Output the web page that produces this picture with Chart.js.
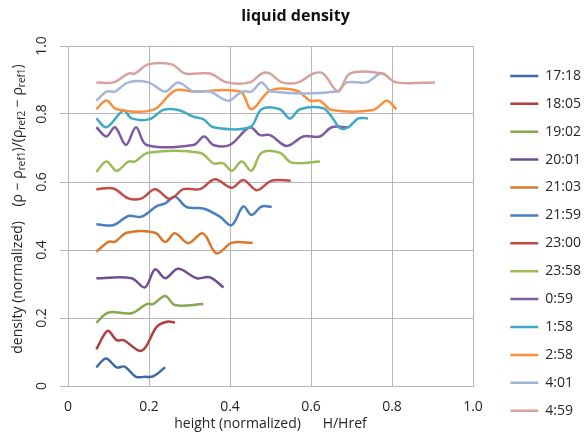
<!DOCTYPE html>
<html>
<head>
<meta charset="utf-8">
<script src="https://cdn.jsdelivr.net/npm/chart.js@4.4.1/dist/chart.umd.min.js"></script>
<style>
  html, body { margin: 0; padding: 0; background: #fff; }
  #wrap { width: 584px; height: 436px; }
</style>
</head>
<body>
<div id="wrap"><canvas id="density"></canvas></div>
<script>
const times = ["17:18", "18:05", "19:02", "20:01", "21:03", "21:59", "23:00",
               "23:58", "0:59", "1:58", "2:58", "4:01", "4:59"];
const colors = ["#3C6AA6", "#AE403D", "#84A84B", "#6B518F", "#D9772B", "#4A7EC1", "#C14B47",
                "#9BBB59", "#7E5CA3", "#3FAAC4", "#F7913F", "#A3B6D8", "#D7A1A0"];
const tickLabels = ["0", "0.2", "0.4", "0.6", "0.8", "1.0"];

// height (H/Href) and normalized density for every measurement time
const h1718 = [0.07, 0.094, 0.12, 0.14, 0.168, 0.19, 0.21, 0.24];
const d1718 = [0.055, 0.081, 0.055, 0.057, 0.027, 0.027, 0.028, 0.055];
const h1805 = [0.07, 0.098, 0.12, 0.137, 0.182, 0.219, 0.244, 0.264];
const d1805 = [0.108, 0.162, 0.135, 0.135, 0.104, 0.174, 0.189, 0.187];
const h1902 = [0.07, 0.10, 0.157, 0.194, 0.21, 0.24, 0.264, 0.334];
const d1902 = [0.186, 0.216, 0.214, 0.241, 0.241, 0.265, 0.238, 0.241];
const h2001 = [0.07, 0.157, 0.19, 0.215, 0.24, 0.272, 0.318, 0.35, 0.384];
const d2001 = [0.317, 0.317, 0.29, 0.343, 0.317, 0.345, 0.317, 0.32, 0.29];
const h2103 = [0.07, 0.10, 0.116, 0.145, 0.215, 0.24, 0.264, 0.297, 0.333, 0.367, 0.404, 0.456];
const d2103 = [0.395, 0.424, 0.424, 0.451, 0.451, 0.424, 0.449, 0.42, 0.449, 0.39, 0.421, 0.421];
const h2159 = [0.07, 0.112, 0.149, 0.182, 0.219, 0.24, 0.264, 0.293, 0.334, 0.375, 0.404, 0.433, 0.453, 0.478, 0.503];
const d2159 = [0.476, 0.473, 0.5, 0.498, 0.529, 0.537, 0.557, 0.526, 0.522, 0.498, 0.473, 0.528, 0.503, 0.528, 0.527];
const h2300 = [0.07, 0.112, 0.149, 0.182, 0.215, 0.252, 0.285, 0.326, 0.363, 0.404, 0.433, 0.466, 0.503, 0.55];
const d2300 = [0.579, 0.581, 0.552, 0.552, 0.579, 0.55, 0.579, 0.579, 0.608, 0.583, 0.606, 0.576, 0.604, 0.604];
const h2358 = [0.07, 0.095, 0.12, 0.149, 0.165, 0.198, 0.326, 0.359, 0.384, 0.404, 0.429, 0.453, 0.478, 0.523, 0.552, 0.622];
const d2358 = [0.63, 0.66, 0.633, 0.66, 0.66, 0.686, 0.686, 0.655, 0.655, 0.633, 0.66, 0.633, 0.686, 0.686, 0.657, 0.66];
const h0059 = [0.07, 0.095, 0.116, 0.143, 0.168, 0.194, 0.31, 0.336, 0.359, 0.40, 0.449, 0.474, 0.499, 0.54, 0.581, 0.622, 0.651, 0.692];
const d0059 = [0.761, 0.734, 0.761, 0.709, 0.761, 0.709, 0.709, 0.734, 0.709, 0.709, 0.761, 0.738, 0.738, 0.706, 0.734, 0.734, 0.761, 0.761];
const h0158 = [0.07, 0.095, 0.137, 0.157, 0.202, 0.235, 0.272, 0.31, 0.334, 0.359, 0.449, 0.478, 0.523, 0.548, 0.573, 0.63, 0.651, 0.672, 0.692, 0.717, 0.741];
const d0158 = [0.787, 0.761, 0.81, 0.787, 0.785, 0.812, 0.812, 0.792, 0.785, 0.761, 0.761, 0.814, 0.814, 0.787, 0.814, 0.817, 0.792, 0.758, 0.761, 0.787, 0.787];
const h0258 = [0.07, 0.095, 0.12, 0.21, 0.264, 0.31, 0.425, 0.453, 0.499, 0.564, 0.598, 0.622, 0.651, 0.754, 0.787, 0.811];
const d0258 = [0.814, 0.84, 0.814, 0.812, 0.869, 0.866, 0.866, 0.814, 0.869, 0.869, 0.839, 0.839, 0.812, 0.812, 0.839, 0.814];
const h0401 = [0.07, 0.095, 0.116, 0.149, 0.198, 0.24, 0.272, 0.31, 0.35, 0.396, 0.429, 0.453, 0.478, 0.503, 0.663, 0.688, 0.737, 0.77, 0.785];
const d0401 = [0.839, 0.866, 0.866, 0.893, 0.893, 0.866, 0.893, 0.866, 0.866, 0.839, 0.866, 0.866, 0.893, 0.866, 0.866, 0.893, 0.893, 0.919, 0.917];
const h0459 = [0.07, 0.112, 0.149, 0.165, 0.198, 0.256, 0.289, 0.35, 0.392, 0.449, 0.478, 0.499, 0.528, 0.569, 0.606, 0.63, 0.667, 0.696, 0.775, 0.811, 0.906];
const d0459 = [0.893, 0.893, 0.919, 0.919, 0.946, 0.946, 0.919, 0.919, 0.893, 0.893, 0.919, 0.919, 0.893, 0.893, 0.919, 0.919, 0.866, 0.919, 0.919, 0.893, 0.893];

const heights = [h1718, h1805, h1902, h2001, h2103, h2159, h2300, h2358, h0059, h0158, h0258, h0401, h0459];
const densities = [d1718, d1805, d1902, d2001, d2103, d2159, d2300, d2358, d0059, d0158, d0258, d0401, d0459];

const FONT = '"Open Sans", "DejaVu Sans", sans-serif';
const TEXT = "#262626";
const GRID = "#B5B5B5";

const datasets = [];
for (let i = 0; i < times.length; i++) {
  const pts = [];
  for (let j = 0; j < heights[i].length; j++) {
    pts.push({ x: heights[i][j], y: densities[i][j] });
  }
  datasets.push({
    label: times[i],
    data: pts,
    borderColor: colors[i],
    backgroundColor: colors[i],
    borderWidth: 2.5,
    pointRadius: 0,
    tension: 0.35,
    fill: false,
    order: times.length - i, // later series on top, like the spreadsheet
  });
}

// y title with subscripts (the axis title option cannot do them)
const yTitle = {
  id: "yTitle",
  afterDraw(chart) {
    const ctx = chart.ctx;
    const parts = ["density (normalized)    (ρ − ρ", "ref1", ")/(ρ", "ref2", " − ρ", "ref1", ")"];
    const big = "14px " + FONT, small = "10px " + FONT;
    ctx.save();
    let total = 0;
    parts.forEach((p, k) => { ctx.font = k % 2 ? small : big; total += ctx.measureText(p).width; });
    ctx.translate(18, 209);
    ctx.rotate(-Math.PI / 2);
    ctx.fillStyle = TEXT;
    ctx.textBaseline = "middle";
    let x = -total / 2;
    parts.forEach((p, k) => {
      ctx.font = k % 2 ? small : big;
      ctx.fillText(p, x, k % 2 ? 4 : 0);
      x += ctx.measureText(p).width;
    });
    ctx.restore();
  },
};

const config = {
  type: "line",
  data: { datasets: datasets },
  plugins: [yTitle],
  options: {
    responsive: true,
    maintainAspectRatio: false,
    animation: false,
    devicePixelRatio: 1,
    layout: { padding: { left: 0, right: -7, top: 0, bottom: 0 } },
    plugins: {
      title: {
        display: true,
        text: "liquid density",
        color: "#111",
        font: { family: FONT, size: 16, weight: "bold", lineHeight: 1.2 },
        padding: { top: 7, bottom: 19.8 },
      },
      legend: {
        position: "right",
        align: "start",
        title: { display: true, text: "", font: { size: 10, lineHeight: 1.2 }, padding: { top: 43, bottom: 0 } },
        labels: {
          usePointStyle: true,
          pointStyle: "line",
          pointStyleWidth: 28,
          padding: 13.9,
          color: TEXT,
          font: { family: FONT, size: 14 },
          sort: (a, b) => a.datasetIndex - b.datasetIndex,
        },
      },
      tooltip: { enabled: false },
    },
    scales: {
      x: {
        type: "linear",
        min: 0,
        max: 1,
        ticks: {
          stepSize: 0.2,
          padding: 14,
          color: TEXT,
          font: { family: FONT, size: 14, lineHeight: 1 },
          callback: (v, i) => tickLabels[i],
        },
        grid: { color: GRID, tickLength: 0 },
        border: { color: GRID },
        title: {
          display: true,
          text: "height (normalized)      H/Href",
          color: TEXT,
          font: { family: FONT, size: 14, lineHeight: 1.2 },
          padding: { top: 2, bottom: 4 },
        },
        afterFit: (s) => { s.height = 50; },
      },
      y: {
        type: "linear",
        min: 0,
        max: 1,
        ticks: {
          stepSize: 0.2,
          minRotation: 90,
          maxRotation: 90,
          crossAlign: "center",
          padding: 8,
          color: TEXT,
          font: { family: FONT, size: 14 },
          callback: (v, i) => tickLabels[i],
        },
        grid: { color: GRID, tickLength: 8 },
        border: { color: GRID },
        afterFit: (s) => { s.width = 68; },
      },
      gap: {
        type: "linear",
        position: "right",
        display: true,
        grid: { display: false },
        border: { display: false },
        ticks: { display: false },
        afterFit: (s) => { s.width = Math.max(0, 591 - s.chart.legend.width - 473); },
      },
    },
  },
};

new Chart(document.getElementById("density"), config);
</script>
</body>
</html>
